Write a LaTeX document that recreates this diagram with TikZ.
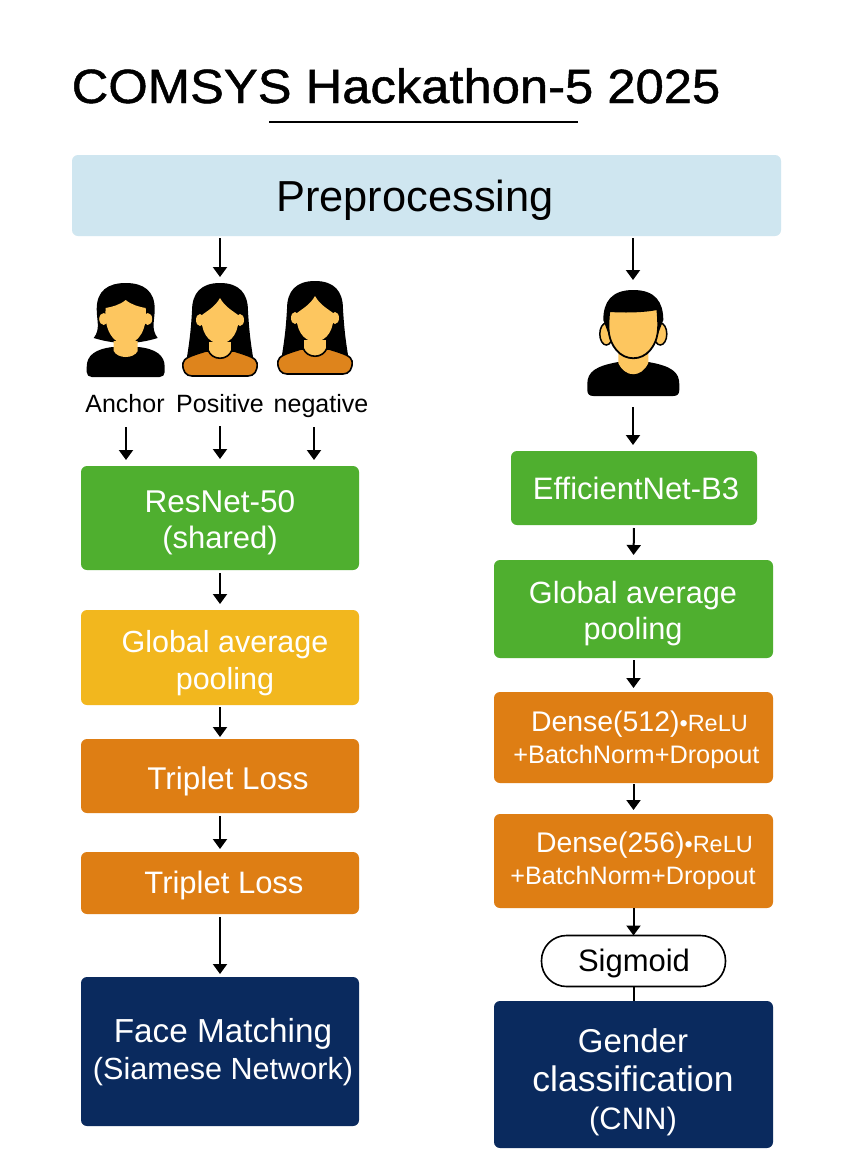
\documentclass[tikz,border=0pt]{standalone}
\usepackage{fontspec}
\setmainfont{Liberation Sans}
\newfontfamily\titlefont[FakeBold=1.0,FakeStretch=1.057]{Liberation Sans}
\usetikzlibrary{arrows.meta}
\definecolor{prebg}{HTML}{CFE6F0}
\definecolor{grn}{HTML}{4FAF2F}
\definecolor{yel}{HTML}{F2B71E}
\definecolor{org}{HTML}{DE7E14}
\definecolor{nvy}{HTML}{0A2A5E}
\definecolor{skin}{HTML}{FDC65F}
\definecolor{shirt}{HTML}{DE841C}
\newcommand\fs[1]{\fontsize{#1}{#1}\selectfont}
\tikzset{
 box/.style={rounded corners=6pt,inner sep=0pt,outer sep=0pt},
 wlab/.style={text=white,inner sep=0pt,anchor=base},
 blab/.style={text=black,inner sep=0pt,anchor=base},
 arr/.style={line width=2pt,draw=black,-{Triangle[width=14pt,length=10pt]}},
 plain/.style={line width=2pt,draw=black},
 oface/.style={fill=shirt,draw=black,line width=1.6pt},
}
\newcommand\bx[6]{\node[box,fill=#6,minimum width=#4pt-#2pt,minimum height=#5pt-#3pt] (#1) at ({(#2+#4)/2},{(#3+#5)/2}) {};}
% long-haired woman: origin at top of hair
\newcommand\longwoman[2]{\begin{scope}[shift={(#1,#2)}]
 \fill[black] (0,0) .. controls (-19,0) and (-28,10) .. (-28,28)
   .. controls (-29,45) and (-30,55) .. (-33,74) -- (33,74)
   .. controls (30,55) and (29,45) .. (28,28) .. controls (28,10) and (19,0) .. (0,0) -- cycle;
 \path[oface] (-37,80) .. controls (-36,75) and (-30,73) .. (-14,68) -- (14,68)
   .. controls (30,73) and (36,75) .. (37,80) .. controls (38,88) and (34,93) .. (28,93)
   -- (-28,93) .. controls (-34,93) and (-38,88) .. (-37,80) -- cycle;
 \path[fill=skin,draw=black,line width=1.6pt] (-12,58) -- (-12,67) .. controls (-8,78) and (8,78) .. (12,67) -- (12,58) -- cycle;
 \fill[skin] (-20,37) ellipse [x radius=4,y radius=6];
 \fill[skin] (20,37) ellipse [x radius=4,y radius=6];
 \fill[skin] (0,15) .. controls (5,24) and (13,28) .. (18,32)
   .. controls (20,48) and (12,60) .. (0,61)
   .. controls (-12,60) and (-20,48) .. (-18,32)
   .. controls (-13,28) and (-5,24) .. (0,15) -- cycle;
\end{scope}}
\begin{document}
\begin{tikzpicture}[x=1pt,y=-1pt]
\useasboundingbox (0,0) rectangle (853,1170);
\fill[white] (0,0) rectangle (853,1170);
% title
\node[blab,font=\titlefont\fs{48}] (title) at (396,103) {COMSYS Hackathon-5 2025};
\coordinate (ula) at (269,122); \coordinate (ulb) at (578,122);
\draw[line width=1.2pt] (ula) -- (ulb);
% boxes
\bx{pre}{72}{155}{781}{236}{prebg}
\node[blab,font=\fs{43.4}] (pret) at (415,211) {Preprocessing};
\bx{res}{81}{466}{359}{570}{grn}
\node[wlab,font=\fs{31.5}] (rest1) at (220,512) {ResNet-50};
\node[wlab,font=\fs{31}] (rest2) at (220,548) {(shared)};
\bx{gapl}{81}{610}{359}{705}{yel}
\node[wlab,font=\fs{30.5}] (gapl1) at (225,652) {Global average};
\node[wlab,font=\fs{30.5}] (gapl2) at (225,689) {pooling};
\bx{tl1}{81}{739}{359}{813}{org}
\node[wlab,font=\fs{31.4}] (tlt1) at (228,789) {Triplet Loss};
\bx{tl2}{81}{852}{359}{914}{org}
\node[wlab,font=\fs{31}] (tlt2) at (224,893) {Triplet Loss};
\bx{fm}{81}{977}{359}{1126}{nvy}
\node[wlab,font=\fs{33.3}] (fm1) at (223,1042) {Face Matching};
\node[wlab,font=\fs{30.6}] (fm2) at (223,1079) {(Siamese Network)};
\bx{eff}{511}{451}{757}{525}{grn}
\node[wlab,font=\fs{31}] (efft) at (636,499) {EfficientNet-B3};
\bx{gapr}{494}{560}{773}{658}{grn}
\node[wlab,font=\fs{30.7}] (gapr1) at (633,603) {Global average};
\node[wlab,font=\fs{30.7}] (gapr2) at (633,639) {pooling};
\bx{d5}{494}{692}{773}{783}{org}
\node[wlab,font=\fs{28.4}] (d5a) at (639.5,731) {Dense(512)\fs{23.5}•ReLU};
\node[wlab,font=\fs{25.3}] (d5b) at (636.5,763) {+BatchNorm+Dropout};
\bx{d2}{494}{814}{773}{908}{org}
\node[wlab,font=\fs{28.4}] (d2a) at (644.5,852) {Dense(256)\fs{23.5}•ReLU};
\node[wlab,font=\fs{25.2}] (d2b) at (633,884) {+BatchNorm+Dropout};
\node[draw=black,line width=1.6pt,fill=white,rounded corners=25pt,minimum width=184pt,minimum height=51pt,inner sep=0pt,outer sep=0pt] (sig) at (633.5,961) {};
\node[blab,font=\fs{31}] (sigt) at (634,971) {Sigmoid};
\bx{gc}{494}{1001}{773}{1148}{nvy}
\node[wlab,font=\fs{33}] (gc1) at (633,1052) {Gender};
\node[wlab,font=\fs{35.5}] (gc2) at (633,1091) {classification};
\node[wlab,font=\fs{31}] (gc3) at (633,1129) {(CNN)};
% short-haired woman
\begin{scope}[shift={(125.7,283)}]
 \fill[black] (0,0) .. controls (-18,0) and (-29,8) .. (-29,26)
   .. controls (-29,38) and (-25,46) .. (-32,55)
   .. controls (-22,58) and (-12,60) .. (0,60)
   .. controls (12,60) and (22,58) .. (32,55)
   .. controls (25,46) and (29,38) .. (29,26)
   .. controls (29,8) and (18,0) .. (0,0) -- cycle;
 \fill[black] (-39,84) .. controls (-39,72) and (-30,66) .. (-13,64) -- (13,64)
   .. controls (30,66) and (39,72) .. (39,84) -- (39,89) .. controls (39,92) and (37,94) .. (34,94)
   -- (-34,94) .. controls (-37,94) and (-39,92) .. (-39,89) -- cycle;
 \fill[skin] (-12,58) -- (-12,68) .. controls (-8,76) and (8,76) .. (12,68) -- (12,58) -- cycle;
 \fill[skin] (-22,36) ellipse [x radius=4.5,y radius=6];
 \fill[skin] (22,36) ellipse [x radius=4.5,y radius=6];
 \fill[skin] (0,17) .. controls (6,22) and (14,24) .. (20,25)
   .. controls (22,46) and (13,61) .. (0,61)
   .. controls (-13,61) and (-22,46) .. (-20,25)
   .. controls (-14,24) and (-6,22) .. (0,17) -- cycle;
\end{scope}
\longwoman{220}{283}
\longwoman{315}{281}
% man
\begin{scope}[shift={(633.3,290)}]
 \fill[black] (-46,94) .. controls (-46,82) and (-38,76) .. (-15,72) -- (15,72)
   .. controls (38,76) and (46,82) .. (46,94) -- (46,100) .. controls (46,104) and (44,106) .. (40,106)
   -- (-40,106) .. controls (-44,106) and (-46,104) .. (-46,100) -- cycle;
 \fill[skin] (-15,60) -- (-15,73) .. controls (-8,88) and (8,88) .. (15,73) -- (15,60) -- cycle;
 \draw[line width=1.5pt,black,fill=skin] (-27,44) ellipse [x radius=6.5,y radius=11];
 \draw[line width=1.5pt,black,fill=skin] (27,44) ellipse [x radius=6.5,y radius=11];
 \fill[black] (0,0) .. controls (-22,0) and (-30,12) .. (-30,30) -- (-27,38) -- (-24,46) -- (24,46) -- (27,38) -- (30,30)
   .. controls (30,12) and (22,0) .. (0,0) -- cycle;
 \draw[line width=1.8pt,black,fill=skin] (-24,21) .. controls (-12,22) and (10,22) .. (24,19)
   .. controls (26,40) and (25,50) .. (17,60)
   .. controls (8,71) and (-8,71) .. (-17,60)
   .. controls (-25,50) and (-26,40) .. (-24,21) -- cycle;
\end{scope}
% person labels
\node[blab,font=\fs{25}] (lA) at (125,412) {Anchor};
\node[blab,font=\fs{25}] (lP) at (220,412) {Positive};
\node[blab,font=\fs{25}] (lN) at (321,412) {negative};
% free ends
\coordinate (p1) at (220,238); \coordinate (p2) at (220,277);
\coordinate (q1) at (633,238); \coordinate (q2) at (633,280);
\coordinate (a1) at (126,427); \coordinate (a2) at (126,460);
\coordinate (b1) at (220,426); \coordinate (b2) at (220,459);
\coordinate (c1) at (314,427); \coordinate (c2) at (314,460);
\coordinate (m1) at (633,407); \coordinate (m2) at (633,445);
% connectors
\draw[arr] (p1) -- (p2);
\draw[arr] (q1) -- (q2);
\draw[arr] (a1) -- (a2);
\draw[arr] (b1) -- (b2);
\draw[arr] (c1) -- (c2);
\draw[arr] (m1) -- (m2);
\draw[arr,shorten <=3pt,shorten >=6pt] (res.south) -- (gapl.north);
\draw[arr,shorten <=2pt,shorten >=2pt] (gapl.south) -- (tl1.north);
\draw[arr,shorten <=3pt,shorten >=3pt] (tl1.south) -- (tl2.north);
\draw[arr,shorten <=3pt,shorten >=3pt] (tl2.south) -- (fm.north);
\draw[arr,shorten <=3pt,shorten >=5pt] (eff.south) -- (gapr.north);
\draw[arr,shorten <=2pt,shorten >=4pt] (gapr.south) -- (d5.north);
\draw[arr,shorten <=1pt,shorten >=4pt] (d5.south) -- (d2.north);
\draw[arr] (d2.south) -- (sig.north);
\draw[plain] (sig.south) -- (gc.north);
\end{tikzpicture}
\end{document}
